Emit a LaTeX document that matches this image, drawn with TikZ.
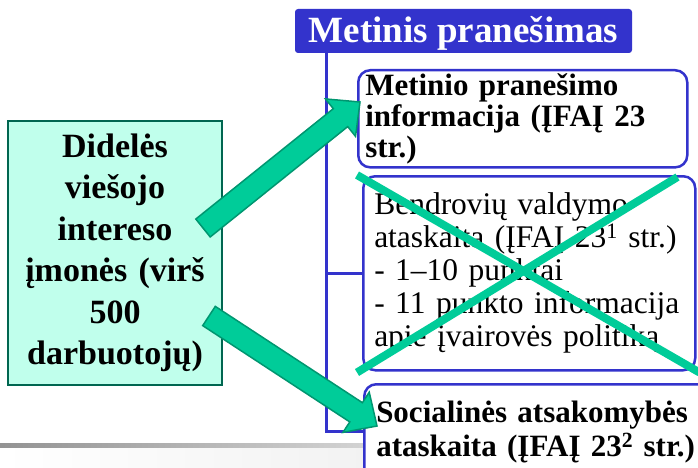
\documentclass[tikz,border=0pt]{standalone}
\usepackage{fontspec}
\setmainfont{Liberation Serif}
\usetikzlibrary{calc}

\definecolor{titleblue}{RGB}{51,51,204}
\definecolor{arrowgreen}{RGB}{0,204,153}
\definecolor{arrowedge}{RGB}{0,150,112}
\definecolor{leftfill}{RGB}{192,255,236}
\definecolor{leftedge}{RGB}{0,102,80}

\begin{document}
\begin{tikzpicture}[x=1pt, y=-1pt,
                infobox/.style={draw=titleblue, line width=2.5pt, fill=white, rounded corners=12pt, anchor=north west, align=left},
                branch/.style={draw=titleblue, line width=3pt},
                fatarrow/.style={fill=arrowgreen, draw=arrowedge, line width=1.5pt, line join=miter},
                cross/.style={draw=arrowgreen, line width=8pt}]
                \useasboundingbox (0,0) rectangle (698,468);
                \clip (0,0) rectangle (698,468);

                \shade[left color=white, right color=gray!10] (0,447) rectangle (363,468);
                \shade[left color=gray!85, right color=gray!35] (0,443) rectangle (363,447);

                \node[fill=titleblue, rounded corners=3pt, minimum width=337pt, minimum height=44pt, text height=27pt, text depth=3pt, text=white, font=\bfseries\fontsize{37pt}{37pt}\selectfont] (title) at (463.5,31) {Metinis pranešimas};
                \coordinate (trunk) at ($(title.south west)+(32,0)$);

                \node[infobox, font=\bfseries\fontsize{31pt}{31pt}\selectfont, minimum width=329pt, minimum height=93pt, text width=315pt, inner xsep=7pt] (box1) at (357,69)
                        {Metinio pranešimo\\ informacija (ĮFAĮ 23\\ str.)};
                \node[infobox, font=\fontsize{31.5pt}{33pt}\selectfont, minimum width=332pt, minimum height=194pt, text width=310pt, inner xsep=11pt] (box2) at (362,175)
                        {Bendrovių valdymo\\ ataskaita (ĮFAĮ 23\textsuperscript{1} str.)\\ - 1–10 punktai\\ - 11 punkto informacija\\ apie įvairovės politiką};
                \node[infobox, font=\bfseries\fontsize{31pt}{34pt}\selectfont, text width=330pt, inner xsep=12pt, inner ysep=16.5pt] (box3) at (363,383)
                        {Socialinės atsakomybės\\ ataskaita (ĮFAĮ 23\textsuperscript{2} str.)};

                \foreach \b in {box1, box2, box3}
                \draw[branch] (trunk) |- (\b.west);

                \draw[cross] ($(box2.north west)+(-5,0)$) -- ($(box2.south east)+(3,1)$);
                \draw[cross] ($(box2.north east)+(-19,2)$) -- ($(box2.south west)+(-5,1)$);

                \node[draw=leftedge, fill=leftfill, line width=2.5pt, minimum width=214pt, minimum height=264pt, text width=200pt, inner xsep=7pt, align=center, font=\bfseries\fontsize{34pt}{41.5pt}\selectfont] (firms) at (115,253)
                        {Didelės\\ viešojo\\ intereso\\ įmonės (virš\\ 500\\ darbuotojų)};

                \coordinate (tail1) at (203,228);
                \coordinate (tip1) at (360,102);
                \coordinate (tail2) at (209,316);
                \coordinate (tip2) at (377,426);

                \foreach \src/\dst in {tail1/tip1, tail2/tip2}{
                \coordinate (base) at ($(\dst)!25pt!(\src)$);
                \filldraw[fatarrow] ($(\src)!11.5pt!90:(\dst)$) -- ($(base)!11.5pt!90:(\dst)$) -- ($(base)!24pt!90:(\dst)$) -- (\dst)
                        -- ($(base)!24pt!-90:(\dst)$) -- ($(base)!11.5pt!-90:(\dst)$) -- ($(\src)!11.5pt!-90:(\dst)$) -- cycle;
                }
\end{tikzpicture}
\end{document}
